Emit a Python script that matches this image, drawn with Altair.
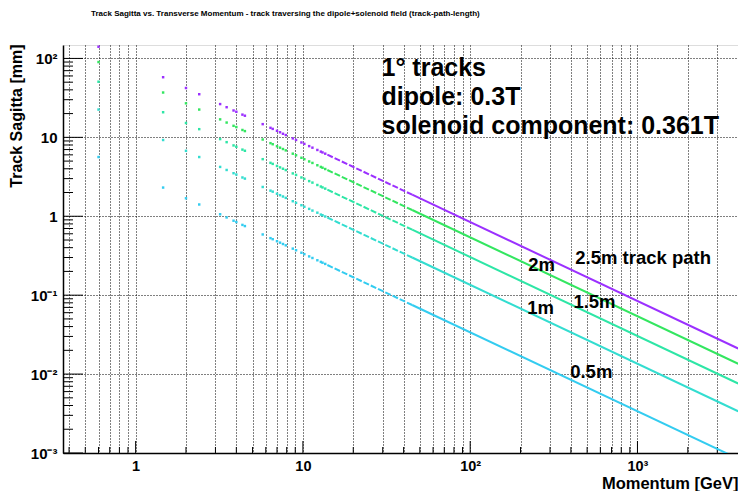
import altair as alt
import pandas as pd

# ---- data ----
series_names = ["2.5m", "2m", "1.5m", "1m", "0.5m"]
series_colors = ["#9B30FF", "#33E660", "#2EE6A6", "#33DDD0", "#33CCF0"]

# sparse track points (momentum in GeV)
momentum_pts = [0.6, 1.46, 2.0, 2.4, 3.2, 3.5, 3.85, 4.0, 4.35, 4.5, 5.75, 6.4, 6.6,
                7.0, 7.3, 7.6, 7.9, 8.7, 9.1, 9.8, 10.2, 10.9, 11.4, 12.2, 12.8, 13.1, 13.6]
sag_2p5 = [140.7, 57.8, 42.2, 35.2, 26.4, 24.1, 21.9, 21.1, 19.4, 18.8, 14.7, 13.2, 12.8,
           12.1, 11.6, 11.1, 10.7, 9.70, 9.27, 8.61, 8.27, 7.74, 7.40, 6.92, 6.59, 6.44, 6.21]
sag_2p0 = [90.0, 37.0, 27.0, 22.5, 16.9, 15.4, 14.0, 13.5, 12.4, 12.0, 9.39, 8.44, 8.18,
           7.71, 7.40, 7.11, 6.84, 6.21, 5.93, 5.51, 5.29, 4.95, 4.74, 4.43, 4.22, 4.12, 3.97]
sag_1p5 = [50.7, 20.8, 15.2, 12.7, 9.50, 8.69, 7.90, 7.60, 6.99, 6.76, 5.29, 4.75, 4.61,
           4.34, 4.16, 4.00, 3.85, 3.49, 3.34, 3.10, 2.98, 2.79, 2.67, 2.49, 2.38, 2.32, 2.24]
sag_1p0 = [22.5, 9.25, 6.75, 5.63, 4.22, 3.86, 3.51, 3.38, 3.10, 3.00, 2.35, 2.11, 2.05,
           1.93, 1.85, 1.78, 1.71, 1.55, 1.48, 1.38, 1.32, 1.24, 1.18, 1.11, 1.05, 1.03, 0.993]
sag_0p5 = [5.63, 2.31, 1.69, 1.41, 1.06, 0.966, 0.878, 0.845, 0.777, 0.751, 0.588, 0.528, 0.512,
           0.483, 0.463, 0.445, 0.428, 0.389, 0.371, 0.345, 0.331, 0.310, 0.296, 0.277, 0.264, 0.258, 0.249]

# dense (line-like) part: dashed 14-45 GeV, solid 45-4000 GeV
momentum_line = [14, 45, 4000]
line_2p5 = [6.03, 1.876, 0.0211]
line_2p0 = [3.86, 1.20, 0.0135]
line_1p5 = [2.17, 0.676, 0.0076]
line_1p0 = [0.964, 0.300, 0.00338]
line_0p5 = [0.241, 0.0751, 0.000845]

# axes
x_grid_vals = [0.4, 0.5, 0.6, 0.7, 0.8, 0.9, 1, 2, 3, 4, 5, 6, 7, 8, 9,
               10, 20, 30, 40, 50, 60, 70, 80, 90, 100, 200, 300, 400, 500, 600, 700, 800, 900,
               1000, 2000, 3000]
x_major = [1, 10, 100, 1000]
x_minor = [v for v in x_grid_vals if v not in x_major]
y_major = [0.001, 0.01, 0.1, 1, 10, 100]
y_minor = [0.002, 0.003, 0.004, 0.005, 0.006, 0.007, 0.008, 0.009,
           0.02, 0.03, 0.04, 0.05, 0.06, 0.07, 0.08, 0.09,
           0.2, 0.3, 0.4, 0.5, 0.6, 0.7, 0.8, 0.9,
           2, 3, 4, 5, 6, 7, 8, 9,
           20, 30, 40, 50, 60, 70, 80, 90]

ann_text = ["1° tracks", "dipole: 0.3T", "solenoid component: 0.361T"]
ann_p = [29.5, 29.5, 29.5]
ann_s = [59.4, 25.5, 10.9]

lab_text = ["2.5m track path", "2m", "1.5m", "1m", "0.5m"]
lab_p = [425, 222, 414, 219, 396]
lab_s = [0.294, 0.239, 0.0813, 0.0683, 0.01054]

# ---- tables ----
pts_rows = []
for name, vals in zip(series_names, [sag_2p5, sag_2p0, sag_1p5, sag_1p0, sag_0p5]):
    for p, s in zip(momentum_pts, vals):
        pts_rows.append({"p": p, "s": s, "series": name})
df_pts = pd.DataFrame(pts_rows)

line_rows = []
for name, vals in zip(series_names, [line_2p5, line_2p0, line_1p5, line_1p0, line_0p5]):
    line_rows.append({"p": momentum_line[0], "s": vals[0], "series": name, "seg": "dash"})
    line_rows.append({"p": momentum_line[1], "s": vals[1], "series": name, "seg": "dash"})
    line_rows.append({"p": momentum_line[1], "s": vals[1], "series": name, "seg": "solid"})
    line_rows.append({"p": momentum_line[2], "s": vals[2], "series": name, "seg": "solid"})
df_line = pd.DataFrame(line_rows)

df_xmaj = pd.DataFrame({"p": x_major})
df_xmin = pd.DataFrame({"p": x_minor})
df_ymaj = pd.DataFrame({"s": y_major})
df_ymin = pd.DataFrame({"s": y_minor})
df_ann = pd.DataFrame({"p": ann_p, "s": ann_s, "text": ann_text})
df_lab = pd.DataFrame({"p": lab_p, "s": lab_s, "text": lab_text})

W, H = 675, 408
FONT = "Liberation Sans"

xscale = alt.Scale(type="log", domain=[0.368, 3990], nice=False)
yscale = alt.Scale(type="log", domain=[0.001, 148], nice=False)

xaxis = alt.Axis(
    values=x_grid_vals,
    labelExpr="datum.value == 1 ? '1' : datum.value == 10 ? '10' : datum.value == 100 ? '10²' : datum.value == 1000 ? '10³' : ''",
    ticks=False, grid=True, gridColor="black", gridDash=[1, 2], gridWidth=1, gridOpacity=1,
    domainColor="black", domainWidth=1.5,
    labelFont=FONT, labelFontWeight="bold", labelFontSize=14.5, labelColor="black",
    labelPadding=6, labelOverlap=False, labelFlush=False,
    title="Momentum [GeV]", titleFont=FONT, titleFontWeight="bold", titleFontSize=16.5,
    titleColor="black", titleX=W, titleY=35, titleAlign="right", titleBaseline="alphabetic",
)
yaxis = alt.Axis(
    values=y_major,
    labelExpr="datum.value == 100 ? '10²' : datum.value == 10 ? '10' : datum.value == 1 ? '1' : datum.value == 0.1 ? '10⁻¹' : datum.value == 0.01 ? '10⁻²' : '10⁻³'",
    ticks=False, grid=True, gridColor="black", gridDash=[1, 2], gridWidth=1, gridOpacity=1,
    domainColor="black", domainWidth=1.5,
    labelFont=FONT, labelFontWeight="bold", labelFontSize=15, labelColor="black",
    labelPadding=6, labelOverlap=False, labelFlush=False,
    title="Track Sagitta [mm]", titleFont=FONT, titleFontWeight="bold", titleFontSize=16,
    titleColor="black", titleX=-47, titleY=-1, titleAngle=-90, titleAlign="right",
    titleBaseline="middle",
)

X = alt.X("p:Q", scale=xscale, axis=xaxis)
Y = alt.Y("s:Q", scale=yscale, axis=yaxis)
color = alt.Color("series:N", scale=alt.Scale(domain=series_names, range=series_colors), legend=None)

points = alt.Chart(df_pts).mark_square(size=6, opacity=1, clip=True).encode(x=X, y=Y, color=color)
dashed = alt.Chart(df_line).transform_filter("datum.seg == 'dash'").mark_line(
    strokeWidth=2, strokeDash=[6, 2], clip=True).encode(x=X, y=Y, color=color, detail="series:N")
solid = alt.Chart(df_line).transform_filter("datum.seg == 'solid'").mark_line(
    strokeWidth=2, clip=True).encode(x=X, y=Y, color=color, detail="series:N")

xt_maj = alt.Chart(df_xmaj).mark_rule(color="black", strokeWidth=1).encode(
    x=X, y=alt.value(H), y2=alt.value(H - 12))
xt_min = alt.Chart(df_xmin).mark_rule(color="black", strokeWidth=1).encode(
    x=X, y=alt.value(H), y2=alt.value(H - 6))
yt_maj = alt.Chart(df_ymaj).mark_rule(color="black", strokeWidth=1).encode(
    y=Y, x=alt.value(0), x2=alt.value(20))
yt_min = alt.Chart(df_ymin).mark_rule(color="black", strokeWidth=1).encode(
    y=Y, x=alt.value(0), x2=alt.value(10))

ann = alt.Chart(df_ann).mark_text(
    align="left", baseline="alphabetic", font=FONT, fontSize=25, fontWeight="bold", color="black"
).encode(x=X, y=Y, text="text:N")
labs = alt.Chart(df_lab).mark_text(
    align="left", baseline="middle", font=FONT, fontSize=18.5, fontWeight="bold", color="black"
).encode(x=X, y=Y, text="text:N")

chart = alt.layer(xt_min, xt_maj, yt_min, yt_maj, points, dashed, solid, ann, labs).properties(
    width=W, height=H,
    title=alt.TitleParams(
        "Track Sagitta vs. Transverse Momentum - track traversing the dipole+solenoid field (track-path-length)",
        anchor="start", frame="group", dx=28, offset=20, baseline="alphabetic",
        font=FONT, fontSize=8, fontWeight="bold", color="black",
    ),
    padding={"left": 55, "top": 37, "right": 0, "bottom": 38},
    autosize=alt.AutoSizeParams(type="none"),
).configure_view(stroke="black", strokeWidth=1.5).configure(background="white")

chart.save("out.html", embed_options={"renderer": "svg", "actions": False})
